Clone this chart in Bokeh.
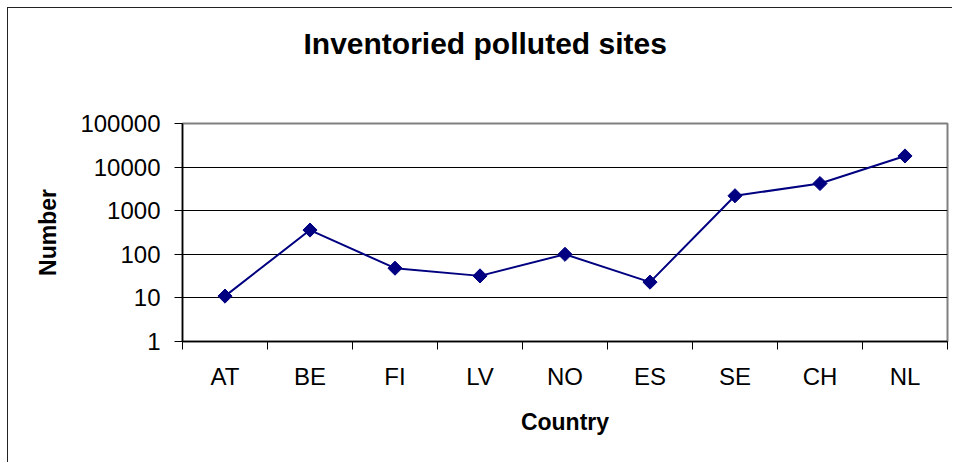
import math
from bokeh.plotting import figure
from bokeh.models import FixedTicker, NumeralTickFormatter, ColumnDataSource, Range1d, Title
from bokeh.embed import file_html
from bokeh.resources import INLINE

countries = ["AT", "BE", "FI", "LV", "NO", "ES", "SE", "CH", "NL"]
sites = [11, 360, 48, 32, 100, 23, 2200, 4200, 18000]
y_ticks = [1, 10, 100, 1000, 10000, 100000]

FONT = "Liberation Sans"
NAVY = "#000080"

xs = [i + 0.5 for i in range(len(countries))]
src = ColumnDataSource(dict(x=xs, y=sites, c=countries))

p = figure(width=945, height=455, y_axis_type="log",
           x_range=Range1d(0, len(countries)), y_range=Range1d(1, 100000),
           output_backend="svg", toolbar_location=None,
           min_border_left=174, min_border_right=6, min_border_top=0, min_border_bottom=122)
p.styles = {"margin-left": "7px", "margin-top": "7px",
            "border-left": "1px solid #222", "border-top": "1px solid #222"}

# spacer between title and plot area (nearest the frame)
p.add_layout(Title(text=" ", text_font_size="1px", standoff=41), "above")

p.title.text = "Inventoried polluted sites"
p.title.text_font = FONT
p.title.text_font_size = "30px"
p.title.text_font_style = "bold"
p.title.text_color = "black"
p.title.align = "left"
p.title.vertical_align = "top"
p.title.offset = 121
p.title.standoff = 36

p.outline_line_color = "#808080"
p.outline_line_width = 2
p.background_fill_color = "white"
p.border_fill_color = "white"

# x axis
p.xaxis.ticker = FixedTicker(ticks=xs, minor_ticks=list(range(len(countries) + 1)))
p.xaxis.major_label_overrides = {x: c for x, c in zip(xs, countries)}
p.xaxis.major_tick_line_color = None
p.xaxis.major_tick_out = 0
p.xaxis.minor_tick_out = 8
p.xaxis.minor_tick_in = 0
p.xaxis.minor_tick_line_color = "black"
p.xaxis.axis_line_color = "black"
p.xaxis.axis_line_width = 1.5
p.xaxis.major_label_text_font = FONT
p.xaxis.major_label_text_font_size = "24px"
p.xaxis.major_label_text_color = "black"
p.xaxis.major_label_standoff = 13
p.xaxis.axis_label = "Country"
p.xaxis.axis_label_text_font = FONT
p.xaxis.axis_label_text_font_size = "23px"
p.xaxis.axis_label_text_font_style = "bold"
p.xaxis.axis_label_text_color = "black"
p.xaxis.axis_label_standoff = 16

# y axis
p.yaxis.ticker = FixedTicker(ticks=y_ticks, minor_ticks=[])
p.yaxis.formatter = NumeralTickFormatter(format="0")
p.yaxis.major_tick_out = 8
p.yaxis.major_tick_in = 0
p.yaxis.major_tick_line_color = "black"
p.yaxis.minor_tick_line_color = None
p.yaxis.axis_line_color = "black"
p.yaxis.axis_line_width = 1.5
p.yaxis.major_label_text_font = FONT
p.yaxis.major_label_text_font_size = "24px"
p.yaxis.major_label_text_color = "black"
p.yaxis.major_label_standoff = 14
p.yaxis.axis_label = "Number"
p.yaxis.axis_label_text_font = FONT
p.yaxis.axis_label_text_font_size = "23px"
p.yaxis.axis_label_text_font_style = "bold"
p.yaxis.axis_label_text_color = "black"
p.yaxis.axis_label_standoff = 16

p.xgrid.grid_line_color = None
p.ygrid.grid_line_color = "black"
p.ygrid.grid_line_width = 1

p.line("x", "y", source=src, line_color=NAVY, line_width=2)
p.scatter("x", "y", source=src, marker="square", size=10, angle=math.pi / 4,
          fill_color=NAVY, line_color=NAVY)

open("out.html", "w").write(file_html(p, INLINE))
